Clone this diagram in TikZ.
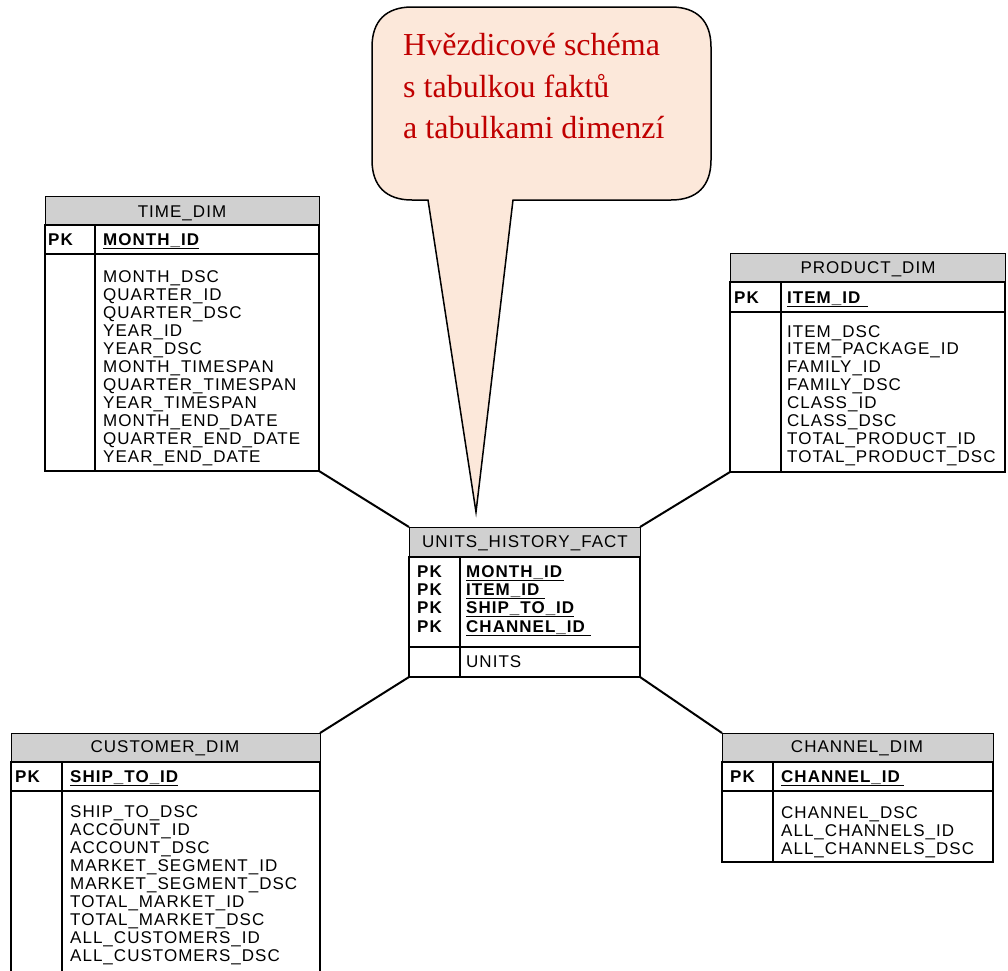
\documentclass[tikz,border=0pt]{standalone}
\usepackage{fontspec}
\setmainfont{Liberation Sans}
\newfontfamily\tabfont[LetterSpace=6]{Liberation Sans}
\newfontfamily\callfont{Liberation Serif}
\definecolor{hdrgray}{RGB}{208,208,208}
\definecolor{peach}{RGB}{252,232,218}
\definecolor{calred}{RGB}{192,0,0}
\newcommand\erdframe[7]{%
  \draw[hdrline] (#1,#3) rectangle (#2,#4);
  \draw[bodyline] (#1,#4) rectangle (#2,#6);
  \draw[bodyline] (#1,#5) -- (#2,#5);
  \draw[bodyline] (#7,#4) -- (#7,#6);
}
\begin{document}
\begin{tikzpicture}[x=1pt,y=-1pt,
  hdrline/.style={draw=black, line width=1pt, fill=hdrgray},
  bodyline/.style={draw=black, line width=2.8pt},
  conn/.style={draw=black, line width=2pt},
  tbl/.style={anchor=north west, inner sep=0pt, outer sep=0pt},
  row/.style={anchor=base west, inner sep=0pt, font=\tabfont\fontsize{17}{18}\selectfont},
  pk/.style={anchor=base west, inner sep=0pt, font=\tabfont\fontsize{17}{18}\selectfont\bfseries},
  title/.style={anchor=base, inner sep=0pt, font=\tabfont\fontsize{17}{18}\selectfont},
  calltext/.style={anchor=base west, inner sep=0pt, text=calred, font=\callfont\fontsize{32}{40}\selectfont},
  callout/.style={draw=black, line width=1.5pt, fill=peach}
]
\useasboundingbox (0,0) rectangle (1008,970);
\clip (0,0) rectangle (1008,970);

% table anchor nodes
\node[tbl, minimum width=274pt, minimum height=275pt] (time) at (45,196) {};
\node[tbl, minimum width=275pt, minimum height=219pt] (product) at (730,253) {};
\node[tbl, minimum width=231pt, minimum height=150pt] (fact) at (409,527) {};
\node[tbl, minimum width=309pt, minimum height=247pt] (customer) at (11,733) {};
\node[tbl, minimum width=271pt, minimum height=129pt] (channel) at (722,733) {};

% connectors
\draw[conn] (time.south east) -- (fact.north west);
\draw[conn] (product.south west) -- (fact.north east);
\draw[conn] (customer.north east) -- (fact.south west);
\draw[conn] (channel.north west) -- (fact.south east);

% callout
\draw[callout] (428,200) -- (476,512) -- (513,200) -- (671,200)
  .. controls (697,200) and (711,186) .. (711,160) -- (711,47)
  .. controls (711,21) and (697,7) .. (671,7) -- (412,7)
  .. controls (386,7) and (372,21) .. (372,47) -- (372,160)
  .. controls (372,186) and (386,200) .. (412,200) -- cycle;
\node[calltext] (c1) at (403,55) {Hvězdicové schéma};
\node[calltext] (c2) at (403,97) {s tabulkou faktů};
\node[calltext] (c3) at (403,138) {a tabulkami dimenzí};

% TIME_DIM
\erdframe{45}{319}{196}{225}{254}{471}{95}
\node[title] (timeT) at (182,217) {TIME\_DIM};
\node[pk] (timePK) at (48,245) {PK};
\node[pk] (timeK) at (103,245) {\underline{MONTH\_ID}};
\foreach \t [count=\i from 0] in {MONTH\_DSC,QUARTER\_ID,QUARTER\_DSC,YEAR\_ID,YEAR\_DSC,MONTH\_TIMESPAN,QUARTER\_TIMESPAN,YEAR\_TIMESPAN,MONTH\_END\_DATE,QUARTER\_END\_DATE,YEAR\_END\_DATE}
  \node[row, name=time\i] at (103,{282+18.07*\i}) {\t};

% PRODUCT_DIM
\erdframe{730}{1005}{253}{282}{312}{472}{781}
\node[title] (prodT) at (868,273) {PRODUCT\_DIM};
\node[pk] (prodPK) at (734,303) {PK};
\node[pk] (prodK) at (787,303) {\underline{ITEM\_ID\hspace{8pt}}};
\foreach \t [count=\i from 0] in {ITEM\_DSC,ITEM\_PACKAGE\_ID,FAMILY\_ID,FAMILY\_DSC,CLASS\_ID,CLASS\_DSC,TOTAL\_PRODUCT\_ID,TOTAL\_PRODUCT\_DSC}
  \node[row, name=prod\i] at (787,{337+17.9*\i}) {\t};

% UNITS_HISTORY_FACT
\erdframe{409}{640}{527}{557}{647}{677}{460}
\node[title] (factT) at (525,547) {UNITS\_HISTORY\_FACT};
\node[pk] (factPK1) at (417,577) {PK};
\node[pk] (factPK2) at (417,595) {PK};
\node[pk] (factPK3) at (417,613) {PK};
\node[pk] (factPK4) at (417,632) {PK};
\node[pk] (factK1) at (466,577) {\underline{MONTH\_ID\hspace{2pt}}};
\node[pk] (factK2) at (466,595) {\underline{ITEM\_ID\hspace{6pt}}};
\node[pk] (factK3) at (466,613) {\underline{SHIP\_TO\_ID}};
\node[pk] (factK4) at (466,632) {\underline{CHANNEL\_ID\hspace{6pt}}};
\node[row] (factU) at (466,667) {UNITS};

% CUSTOMER_DIM
\erdframe{11}{320}{733}{762}{791}{985}{62}
\node[title] (custT) at (165,752) {CUSTOMER\_DIM};
\node[pk] (custPK) at (15,782) {PK};
\node[pk] (custK) at (70,782) {\underline{SHIP\_TO\_ID}};
\foreach \t [count=\i from 0] in {SHIP\_TO\_DSC,ACCOUNT\_ID,ACCOUNT\_DSC,MARKET\_SEGMENT\_ID,MARKET\_SEGMENT\_DSC,TOTAL\_MARKET\_ID,TOTAL\_MARKET\_DSC,ALL\_CUSTOMERS\_ID,ALL\_CUSTOMERS\_DSC}
  \node[row, name=cust\i] at (70,{817+18*\i}) {\t};

% CHANNEL_DIM
\erdframe{722}{993}{733}{762}{791}{862}{773}
\node[title] (chanT) at (857,752) {CHANNEL\_DIM};
\node[pk] (chanPK) at (730,782) {PK};
\node[pk] (chanK) at (781,782) {\underline{CHANNEL\_ID\hspace{4pt}}};
\foreach \t [count=\i from 0] in {CHANNEL\_DSC,ALL\_CHANNELS\_ID,ALL\_CHANNELS\_DSC}
  \node[row, name=chan\i] at (781,{818+18*\i}) {\t};
\end{tikzpicture}
\end{document}
